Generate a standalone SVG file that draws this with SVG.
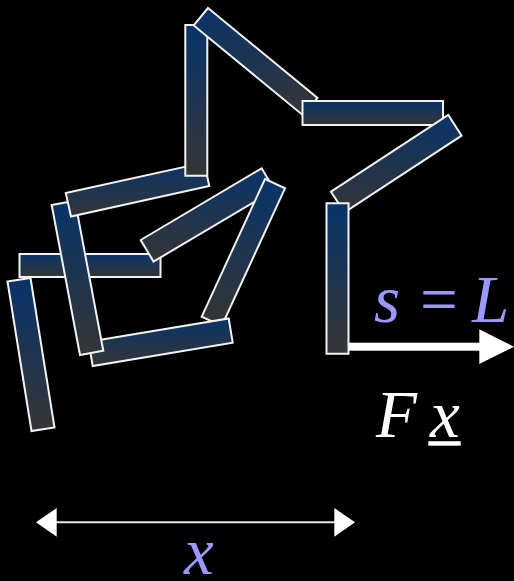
<svg xmlns="http://www.w3.org/2000/svg" width="514" height="581" viewBox="0 0 514 581">
  <defs>
    <linearGradient id="rodGrad" x1="0" y1="0" x2="0" y2="1">
      <stop offset="0" stop-color="#08346a"/>
      <stop offset="1" stop-color="#353535"/>
    </linearGradient>
    <style>
      .rod { fill: url(#rodGrad); stroke: #f2f2f2; stroke-width: 2; stroke-linejoin: miter; }
      .math { font-family: "Liberation Serif", "Times New Roman", serif; font-style: italic; }
      .up { font-family: "Liberation Serif", "Times New Roman", serif; }
      .lav { fill: #9999ff; }
      .wht { fill: #ffffff; }
    </style>
  </defs>
  <rect x="0" y="0" width="514" height="581" fill="#000000"/>

  <g id="rodH"><polygon class="rod" points="19.5,254 160.5,254 160.5,277 19.5,277"/></g>
  <g id="rodI"><polygon class="rod" points="7.5,281.5 30.5,278 54.5,427.5 31.5,431"/></g>
  <g id="rodL"><polygon class="rod" points="140.7,240 261.7,168.3 274.5,189.9 153.5,261.6"/></g>
  <g id="rodK"><polygon class="rod" points="265,179 285,188.3 221.7,326 201.7,316.7"/></g>
  <g id="rodJ"><polygon class="rod" points="88.7,341.8 228.7,318.5 232.7,342.7 92.7,366"/></g>
  <g id="rodG"><polygon class="rod" points="51.7,205 75,200.7 103.3,350.7 80,355"/></g>
  <g id="rodF"><polygon class="rod" points="65.8,193.1 204.1,162.6 209.3,186 71,216.5"/></g>
  <g id="rodA"><polygon class="rod" points="185.3,25 207.3,25 207.3,175.7 185.3,175.7"/></g>
  <g id="rodB"><polygon class="rod" points="208,8 317.5,98 303.2,115.4 193.7,25.4"/></g>
  <g id="rodC"><polygon class="rod" points="302.5,101 443,101 443,125 302.5,125"/></g>
  <g id="rodD"><polygon class="rod" points="331,191.7 448.3,115 461.6,135.6 344.5,212.4"/></g>
  <g id="rodE"><polygon class="rod" points="326.5,203.2 348.5,203.2 348.5,353.8 326.5,353.8"/></g>

  <g id="connectors">
    <g id="force">
      <rect x="349" y="342.7" width="131" height="8" fill="#ffffff"/>
      <polygon points="479.3,329.3 514,346.7 479.3,364" fill="#ffffff"/>
    </g>
    <g id="span">
      <line x1="55" y1="522.3" x2="336" y2="522.3" stroke="#e8e8e8" stroke-width="2"/>
      <polygon points="36,522.3 56.7,508 56.7,536.7" fill="#ffffff"/>
      <polygon points="355,522.3 334.3,508 334.3,536.7" fill="#ffffff"/>
    </g>
  </g>

  <g id="labels">
    <text class="math lav" x="374" y="321.7" font-size="67">s</text>
    <text class="up lav" x="420" y="321.7" font-size="67">=</text>
    <text class="math lav" x="472" y="321.7" font-size="67">L</text>
    <text class="math wht" x="376" y="436.7" font-size="67">F</text>
    <text class="math wht" x="430" y="436.7" font-size="67">x</text>
    <rect x="428.3" y="441.2" width="32.4" height="4.5" fill="#ffffff"/>
    <text class="math lav" x="184" y="574" font-size="67">x</text>
  </g>
</svg>
